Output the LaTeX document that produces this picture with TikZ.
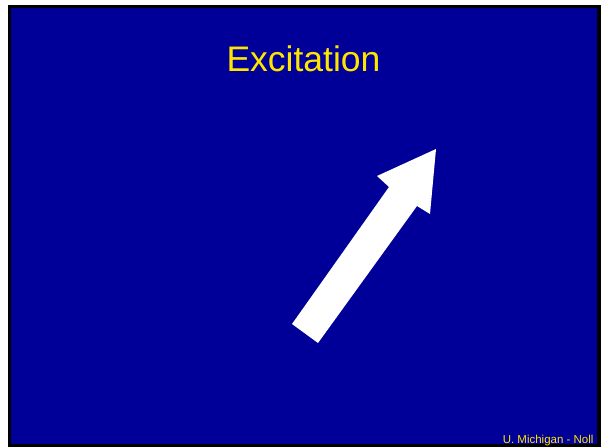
\documentclass[tikz,border=0pt]{standalone}
\usepackage{fontspec}
\setmainfont{Liberation Sans}
\usetikzlibrary{positioning}
\definecolor{SlideBg}  {HTML}{000099}
\definecolor{TxtTitle} {HTML}{FFE600}
\definecolor{FrameInk} {HTML}{000000}

\begin{document}
\begin{tikzpicture}[
  x=1pt, y=1pt,
  every node/.style={inner sep=0pt, outer sep=0pt},
  title/.style={text=TxtTitle, font=\fontsize{35.5}{42}\selectfont, anchor=base},
  footer/.style={text=TxtTitle, font=\fontsize{11.5}{14}\selectfont, anchor=base east},
  bigarrow/.style={fill=white, draw=none},
]
  \useasboundingbox (0,0) rectangle (601,447);

  % slide frame
  \fill[FrameInk] (8,0) rectangle (601,442);
  \fill[SlideBg] (11,3) rectangle (597,439);

  \node[title]  (head) at (303.5,375) {Excitation};
  \node[footer] (foot) at (593.5,4) {U. Michigan - Noll};

  % excitation arrow
  \fill[bigarrow]
    (292,123) -- (389,260) -- (377,271) -- (436,298)
    -- (430,233) -- (417,241) -- (318,104) -- cycle;
\end{tikzpicture}
\end{document}
